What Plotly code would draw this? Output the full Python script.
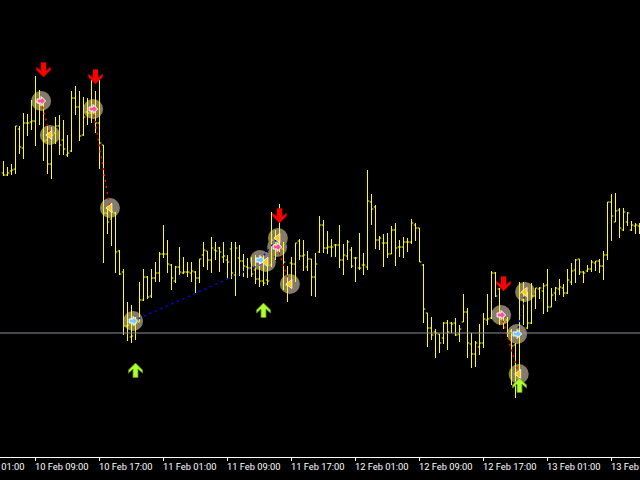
import plotly.graph_objects as go

# Price points, one entry per 30-minute bar
opens = [307,305,309,311,351,332,357,358,359,377,
         375,340,316,347,354,340,325,329,382,373,
         345,368,367,370,357,335,267,261,267,229,
         208,154,143,155,158,180,203,184,202,207,
         226,226,215,199,213,207,208,207,208,202,
         225,229,220,230,232,223,220,231,205,222,
         219,213,212,210,201,199,200,215,235,237,
         231,195,217,216,239,224,213,221,203,228,
         255,232,233,235,235,220,224,230,222,212,
         215,213,278,273,240,237,237,226,250,233,
         233,238,238,255,252,215,167,152,148,146,
         142,157,157,157,146,158,168,136,126,133,
         137,160,162,207,191,164,160,149,135,102,
         180,152,157,184,191,189,195,173,187,191,
         192,187,198,210,221,208,209,211,217,219,
         214,225,278,258,270,250,258,250,254,254]
highs = [319,313,316,354,354,367,366,380,404,390,
         378,355,353,363,365,360,345,389,394,389,
         383,382,400,389,400,335,272,277,268,230,
         211,178,175,163,198,211,204,211,218,228,
         255,240,216,214,233,223,218,218,209,221,
         238,229,243,238,233,238,225,238,238,235,
         226,222,223,225,222,225,222,268,250,276,
         238,214,223,237,241,240,229,221,227,264,
         260,249,241,236,255,236,240,233,223,247,
         227,310,286,275,244,246,247,254,257,240,
         243,242,261,257,252,216,167,163,151,146,
         158,160,158,162,155,186,172,147,139,156,
         167,186,209,208,192,166,163,151,137,198,
         198,188,197,192,193,197,211,192,193,201,
         196,211,217,221,221,209,215,220,219,221,
         229,278,286,287,272,272,268,259,257,257]
lows = [304,304,305,306,326,321,344,350,334,355,
        319,306,301,336,325,325,323,328,365,339,
        344,355,357,347,311,217,246,234,207,205,
        145,139,137,140,158,179,181,182,198,198,
        222,207,190,197,205,206,203,198,187,197,
        213,210,207,220,208,217,201,201,184,204,
        203,202,203,196,193,194,195,213,220,228,
        190,178,195,198,220,209,209,184,183,227,
        227,226,223,223,212,205,220,212,198,210,
        205,210,255,231,230,213,222,226,214,223,
        222,228,236,239,218,157,133,140,122,127,
        136,130,147,144,138,158,122,112,113,125,
        132,155,161,183,155,151,143,95,82,97,
        155,151,156,171,181,166,168,173,179,185,
        183,186,195,197,205,197,208,208,209,207,
        200,220,239,258,242,249,254,249,246,246]
closes = [305,307,310,354,333,357,357,359,378,375,
          339,316,345,354,335,331,327,382,373,344,
          363,367,370,357,337,267,258,268,228,206,
          154,155,144,157,180,203,183,202,207,226,
          226,216,202,213,208,208,208,209,202,221,
          230,220,232,229,228,224,218,207,232,219,
          214,212,206,201,199,197,199,240,240,234,
          218,197,216,237,224,225,221,203,216,255,
          232,233,233,235,220,225,238,214,222,212,
          215,279,271,240,242,237,226,250,232,233,
          238,238,257,252,218,171,152,145,147,137,
          157,148,156,145,151,168,137,126,137,137,
          161,161,207,184,166,158,147,134,105,187,
          184,157,184,192,192,194,173,185,192,193,
          187,200,209,220,208,207,211,218,219,214,
          225,278,264,269,252,268,267,255,255,255]

tick_bars = [8, 24, 40, 56, 72, 88, 104, 120, 136, 152]
tick_labels = ["10 Feb 09:00", "10 Feb 17:00", "11 Feb 01:00", "11 Feb 09:00", "11 Feb 17:00",
               "12 Feb 01:00", "12 Feb 09:00", "12 Feb 17:00", "13 Feb 01:00", "13 Feb 09:00"]
clipped_bar = -8
clipped_label = "10 Feb 01:00"

level = 147

# Trades: entry bar, entry price, exit bar, exit price
sell_bar = [9.4, 22.4, 68.4, 124.4]
sell_price = [379, 371, 233, 165]
sell_exit_bar = [11.6, 26.6, 71.6, 128.8]
sell_exit_price = [345, 272, 196, 106]
buy_bar = [32.4, 64.1, 128.4]
buy_price = [159, 220, 146]
buy_exit_bar = [65.6, 68.6, 130.4]
buy_exit_price = [218, 242, 188]

red_bars = [10, 23, 69, 125]
red_tips = [403, 396, 257, 189]
green_bars = [33, 65, 129]
green_tips = [117, 177, 102]

LO, HI = -0.875, 159.125
YLO, YHI = 23, 480

fig = go.Figure()

# Bars
fig.add_trace(go.Ohlc(
    x=list(range(len(opens))), open=opens, high=highs, low=lows, close=closes,
    increasing_line_color="#ffff00", decreasing_line_color="#ffff00",
    line_width=1, tickwidth=0.45, showlegend=False, hoverinfo="skip"))

shapes = []
# Halo discs beneath the bars
for bx, by in zip(sell_bar + sell_exit_bar + buy_bar + buy_exit_bar,
                  sell_price + sell_exit_price + buy_price + buy_exit_price):
    shapes.append(dict(type="circle", layer="below", xref="x", yref="y",
                       xsizemode="pixel", ysizemode="pixel", xanchor=bx, yanchor=by,
                       x0=-10, x1=10, y0=-10, y1=10,
                       fillcolor="#857b6d", line=dict(width=0, color="#857b6d")))
shapes.append(dict(type="line", xref="paper", x0=0, x1=1, yref="y", y0=level, y1=level,
                   line=dict(color="#8e9098", width=1), layer="above"))

# Glyph outlines, in pixels around each anchor
DOWN_ARROW = "M0,0 L7,7 L7,10 L2.5,6 L2.5,14.5 L-2.5,14.5 L-2.5,6 L-7,10 L-7,7 Z"
UP_ARROW = "M0,0 L7,-7 L7,-10 L2.5,-6 L2.5,-14.5 L-2.5,-14.5 L-2.5,-6 L-7,-10 L-7,-7 Z"
RIGHT_ARROW = "M4.5,0 L0,4.5 L0,2 L-4,2 L-4,-2 L0,-2 L0,-4.5 Z"
for bx, tip in zip(red_bars, red_tips):
    shapes.append(dict(type="path", layer="above", xref="x", yref="y",
                       xsizemode="pixel", ysizemode="pixel", xanchor=bx, yanchor=tip,
                       path=DOWN_ARROW, fillcolor="#ff0000", line=dict(color="#c00000", width=0.5)))
for bx, tip in zip(green_bars, green_tips):
    shapes.append(dict(type="path", layer="above", xref="x", yref="y",
                       xsizemode="pixel", ysizemode="pixel", xanchor=bx, yanchor=tip,
                       path=UP_ARROW, fillcolor="#adff2f", line=dict(color="#5f8a1a", width=0.8)))
for bars, prices, col in ((sell_bar, sell_price, "#ff4fa0"), (buy_bar, buy_price, "#78c8ff")):
    for bx, by in zip(bars, prices):
        shapes.append(dict(type="path", layer="above", xref="x", yref="y",
                           xsizemode="pixel", ysizemode="pixel", xanchor=bx, yanchor=by,
                           path=RIGHT_ARROW, fillcolor=col, line=dict(color="#ffffff", width=1)))

# Trade links
for bx, by, ex, ey in zip(sell_bar, sell_price, sell_exit_bar, sell_exit_price):
    fig.add_trace(go.Scatter(x=[bx, ex], y=[by, ey], mode="lines", showlegend=False, hoverinfo="skip",
                             line=dict(color="#ff0000", width=1.5, dash="2px,4px")))
for bx, by, ex, ey in zip(buy_bar, buy_price, buy_exit_bar, buy_exit_price):
    fig.add_trace(go.Scatter(x=[bx, ex], y=[by, ey], mode="lines", showlegend=False, hoverinfo="skip",
                             line=dict(color="#0000ff", width=1.5, dash="2px,4px")))

# Exit glyphs
fig.add_trace(go.Scatter(x=sell_exit_bar + buy_exit_bar, y=sell_exit_price + buy_exit_price,
                         mode="markers", showlegend=False, hoverinfo="skip",
                         marker=dict(symbol="triangle-left", size=8, color="#ffc800",
                                     line=dict(color="#ffffff", width=0.8))))

annotations = []
for b, lab in zip([clipped_bar] + tick_bars, [clipped_label] + tick_labels):
    annotations.append(dict(x=(b - LO) / (HI - LO), y=0, xref="paper", yref="paper",
                            xanchor="left", yanchor="top", yshift=-2, xshift=-3, showarrow=False,
                            text=lab, font=dict(color="#ffffff", family="Roboto", size=9.3)))

fig.update_layout(
    width=640, height=480, paper_bgcolor="#000000", plot_bgcolor="#000000",
    margin=dict(l=0, r=0, t=0, b=23, pad=0), showlegend=False,
    shapes=shapes, annotations=annotations,
    xaxis=dict(range=[LO, HI], tickmode="array", tickvals=tick_bars, ticktext=tick_labels,
               showticklabels=False, ticks="outside", ticklen=3, tickcolor="#ffffff", tickwidth=1,
               showline=True, linecolor="#ffffff", linewidth=1, showgrid=False, zeroline=False,
               rangeslider=dict(visible=False)),
    yaxis=dict(range=[YLO, YHI], visible=False, showgrid=False, zeroline=False),
)

fig.write_html("out.html", config={"displayModeBar": False},
               post_script="document.body.style.margin='0';document.body.style.overflow='hidden';")
